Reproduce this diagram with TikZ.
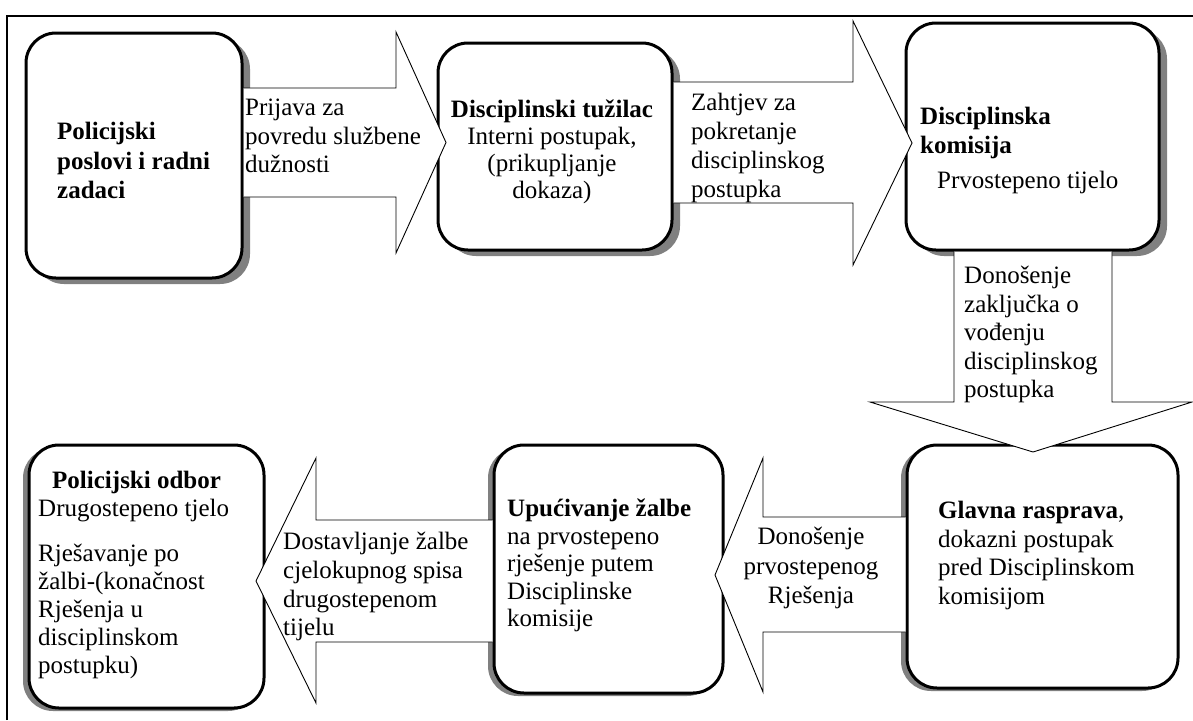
\documentclass[tikz,border=0pt]{standalone}
\usepackage{fontspec}
\setmainfont{Liberation Serif}
\usetikzlibrary{shadows}

\tikzset{
  card/.style={draw, line width=3pt, rounded corners=30pt, fill=white, inner sep=0pt},
  topshadow/.style={drop shadow={shadow xshift=8pt, shadow yshift=-6pt, fill=black!50, opacity=1}},
  lowshadow/.style={drop shadow={shadow xshift=-6pt, shadow yshift=-3pt, fill=black!50, opacity=1}},
  blockarrow/.style={draw, line width=0.9pt, fill=white, line join=miter},
  txt/.style={inner sep=0pt, align=left, anchor=north west, font=\fontsize{25}{28.5}\selectfont},
}

\begin{document}
\begin{tikzpicture}[x=1pt,y=-1pt]
\useasboundingbox (0,0) rectangle (1193,720);
\draw[line width=2pt] (7,720) -- (7,15.5) -- (1193,15.5);

% boxes
\node[card,topshadow,minimum width=216pt,minimum height=245pt] (b1) at (134,155.5) {};
\node[card,topshadow,minimum width=234pt,minimum height=207pt] (b2) at (555,146.5) {};
\node[card,topshadow,minimum width=253pt,minimum height=227pt] (b3) at (1032.5,136.5) {};
\node[card,lowshadow,minimum width=271pt,minimum height=243pt] (b4) at (1042.5,566.5) {};
\node[card,lowshadow,minimum width=229pt,minimum height=248pt] (b6) at (608.5,569) {};
\node[card,lowshadow,minimum width=235pt,minimum height=263pt] (b5) at (146.5,576.5) {};

% arrows
\draw[blockarrow] (b1.east |- 0,88) -- (396,88) -- (396,32) -- (446,142.5) -- (396,253) -- (396,197) -- (b1.east |- 0,197);
\draw[blockarrow] (b2.east |- 0,82) -- (853,82) -- (853,21) -- (912,143) -- (853,265) -- (853,203) -- (b2.east |- 0,203);
\draw[blockarrow] (b3.south -| 954,0) -- (954,402) -- (870,402) -- (1033,452) -- (1192,402) -- (1112,402) -- (b3.south -| 1112,0);
\draw[blockarrow] (b4.west |- 0,517) -- (763,517) -- (763,458) -- (715,575) -- (763,692) -- (763,632) -- (b4.west |- 0,632);
\draw[blockarrow] (b6.west |- 0,520) -- (316,520) -- (316,458) -- (256,581) -- (316,703) -- (316,642) -- (b6.west |- 0,642);

% texts
\node[txt,font=\fontsize{25}{29.5}\selectfont\bfseries] (t1) at (57,122) {Policijski\\poslovi i radni\\zadaci};
\node[txt] (a1) at (245,99) {Prijava za\\povredu službene\\dužnosti};
\node[txt,anchor=north,align=center,font=\fontsize{25}{27}\selectfont] (t2) at (552,100)
  {\textbf{Disciplinski tužilac}\\Interni postupak,\\(prikupljanje\\dokaza)};
\begin{scope}
  \clip (b2.east |- 0,82) rectangle (853,203);
  \node[txt,font=\fontsize{25}{29}\selectfont] (a2) at (691,93) {Zahtjev za\\pokretanje\\disciplinskog\\postupka};
\end{scope}
\node[txt,font=\fontsize{25}{29}\selectfont] (t3) at (920,107)
  {\textbf{Disciplinska}\\\textbf{komisija}\\[6pt]\hspace*{17pt}Prvostepeno tijelo};
\node[txt] (a3) at (964,266) {Donošenje\\zaključka o\\vođenju\\disciplinskog\\postupka};
\node[txt] (t4) at (938,501) {\textbf{Glavna rasprava},\\dokazni postupak\\pred Disciplinskom\\komisijom};
\node[txt,anchor=north,align=center,font=\fontsize{25}{29.5}\selectfont] (a5) at (811,527)
  {Donošenje\\prvostepenog\\Rješenja};
\node[txt,font=\fontsize{25}{27.5}\selectfont] (t6) at (507,499)
  {\textbf{Upućivanje žalbe}\\na prvostepeno\\rješenje putem\\Disciplinske\\komisije};
\node[txt,font=\fontsize{25}{28.7}\selectfont] (a4) at (283,532) {Dostavljanje žalbe\\cjelokupnog spisa\\drugostepenom\\tijelu};
\node[txt,font=\fontsize{25}{28}\selectfont] (t5) at (38,471)
  {\hspace*{14pt}\textbf{Policijski odbor}\\Drugostepeno tjelo\\[17pt]Rješavanje po\\žalbi-(konačnost\\Rješenja u\\disciplinskom\\postupku)};
\end{tikzpicture}
\end{document}
